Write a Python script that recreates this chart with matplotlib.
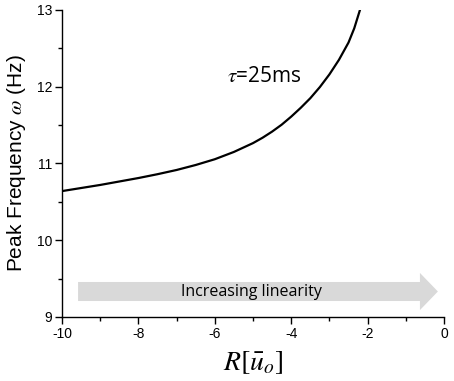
import matplotlib
matplotlib.use("Agg")
import matplotlib.pyplot as plt
from matplotlib.ticker import MultipleLocator

plt.rcParams['font.family'] = ['Liberation Sans', 'DejaVu Sans']
plt.rcParams['mathtext.fontset'] = 'stix'
plt.rcParams['axes.unicode_minus'] = False

# Data
r_vals = [-10, -9.5, -9, -8.5, -8, -7.5, -7, -6.5, -6, -5.5, -5, -4.75, -4.5,
          -4.25, -4, -3.75, -3.5, -3.25, -3, -2.75, -2.5, -2.35, -2.2]
peak_freq = [10.64, 10.68, 10.72, 10.765, 10.81, 10.86, 10.915, 10.98, 11.055,
             11.15, 11.265, 11.335, 11.415, 11.505, 11.61, 11.725, 11.85,
             11.995, 12.16, 12.35, 12.575, 12.76, 13.0]
x_ticks = [-10, -8, -6, -4, -2, 0]
y_ticks = [9, 10, 11, 12, 13]
curve_label = r'$\tau$=25ms'
arrow_label = 'Increasing linearity'

fig = plt.figure(figsize=(4.54, 3.81), dpi=100)
ax = fig.add_axes([0.1366, 0.168, 0.8414, 0.806])

ax.plot(r_vals, peak_freq, color='black', lw=1.6)

ax.set_xlim(-10, 0)
ax.set_ylim(9, 13)
ax.set_xticks(x_ticks)
ax.set_yticks(y_ticks)
ax.xaxis.set_minor_locator(MultipleLocator(1))
ax.yaxis.set_minor_locator(MultipleLocator(0.5))
ax.tick_params(which='major', direction='out', length=5, width=1, labelsize=10, pad=2)
ax.tick_params(which='minor', direction='out', length=3, width=1)
for s in ['top', 'right']:
    ax.spines[s].set_visible(False)
for s in ['left', 'bottom']:
    ax.spines[s].set_linewidth(1)

ax.set_ylabel(r'Peak Frequency $\omega$ (Hz)', fontsize=15, labelpad=6)
ax.set_xlabel(r'$R[\bar{u}_o]$', fontsize=20, labelpad=6)

# Grey block arrow (annotation)
x0, xh, x1 = -9.58, -0.63, -0.16
yc, tw, hw = 9.332, 0.124, 0.242
ax.fill([x0, xh, xh, x1, xh, xh, x0],
        [yc - tw, yc - tw, yc - hw, yc, yc + hw, yc + tw, yc + tw],
        color='#d9d9d9', lw=0, zorder=1, clip_on=False)
ax.text(-5.03, yc, arrow_label, ha='center', va='center', fontsize=11.5,
        family=['Open Sans', 'DejaVu Sans'], zorder=2)

ax.text(-4.71, 12.13, curve_label, ha='center', va='center', fontsize=15,
        family=['Open Sans', 'DejaVu Sans'])

fig.savefig('out.png', dpi=100)
